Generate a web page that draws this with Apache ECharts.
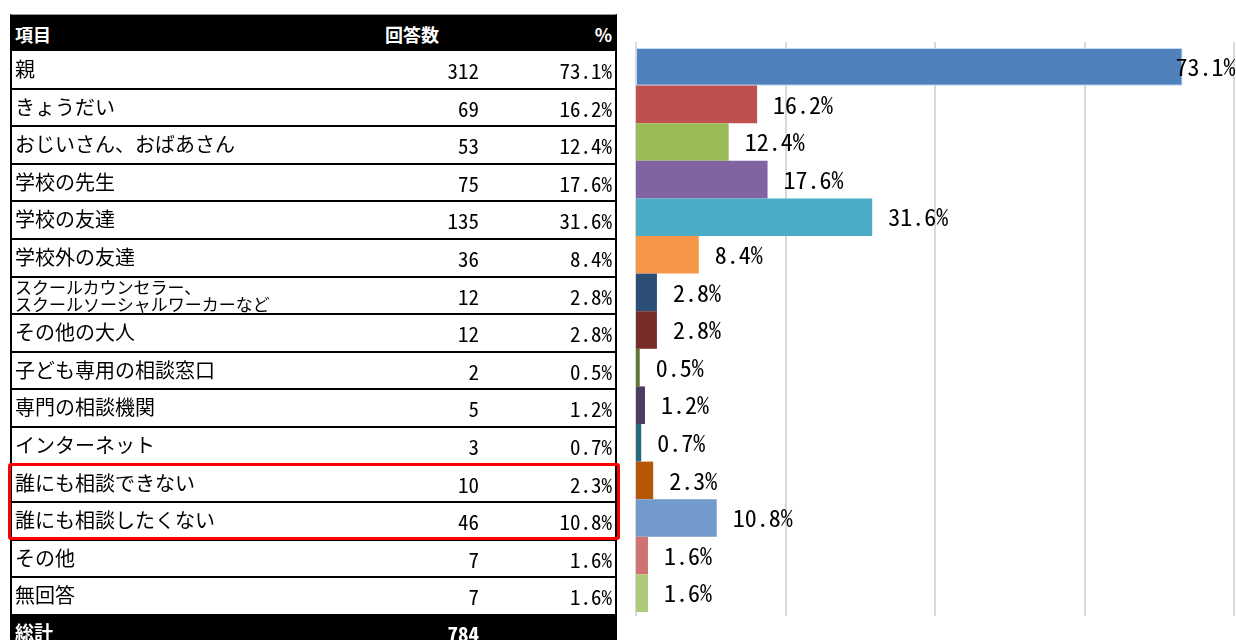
<!DOCTYPE html>
<html>
<head>
<meta charset="utf-8">
<script src="https://cdn.jsdelivr.net/npm/echarts@6/dist/echarts.min.js"></script>
<style>
  html, body { margin: 0; padding: 0; background: #fff; }
  #chart { position: absolute; left: 0; top: 0; width: 1236px; height: 640px; }
  #table { position: absolute; left: 0; top: 0; width: 620px; height: 640px; overflow: hidden;
    font-family: "Noto Sans CJK JP", sans-serif; color: #000; }
  .row { position: absolute; left: 10px; width: 607px; box-sizing: border-box;
    border-left: 2px solid #000; border-right: 2px solid #000; border-bottom: 2px solid #000; }
  .row span { position: absolute; white-space: nowrap; }
  .name { left: 3px; font-size: 20px; }
  .num { font-family: "Noto Sans Mono CJK JP", "DejaVu Sans Mono", monospace; font-size: 21px; }
  .head { background: #000; color: #fff; font-weight: bold; font-size: 18px; border-top: 1px solid #999; }
  .total { background: #000; color: #fff; font-weight: bold; border-bottom: none; }
  #redbox { position: absolute; left: 8px; top: 463px; width: 612px; height: 77px; box-sizing: border-box;
    border: 3px solid #ff0000; border-radius: 3px; }
</style>
</head>
<body>
<div id="chart"></div>
<div id="table"></div>
<script>
// 項目
const categories = ['親', 'きょうだい', 'おじいさん、おばあさん', '学校の先生', '学校の友達', '学校外の友達',
  'スクールカウンセラー、\nスクールソーシャルワーカーなど', 'その他の大人', '子ども専用の相談窓口', '専門の相談機関',
  'インターネット', '誰にも相談できない', '誰にも相談したくない', 'その他', '無回答']
// 回答数
const counts = [312, 69, 53, 75, 135, 36, 12, 12, 2, 5, 3, 10, 46, 7, 7]
// %
const percents = [73.1, 16.2, 12.4, 17.6, 31.6, 8.4, 2.8, 2.8, 0.5, 1.2, 0.7, 2.3, 10.8, 1.6, 1.6]
const total = 784
const barColors = ['#4f81bd', '#c0504d', '#9bbb59', '#8064a2', '#4bacc6', '#f79646', '#2c4d75', '#772c2a',
  '#5f7530', '#4d3b62', '#276a7c', '#b65708', '#729aca', '#cd7371', '#afc97a']
const axisMax = 80
const tickStep = 20

// 表
const headTop = 14
const rowTop = 51
const rowH = 37.6
const table = document.getElementById('table')
function addRow (top, h, cls, cells) {
  const div = document.createElement('div')
  div.className = 'row ' + cls
  div.style.top = top + 'px'
  div.style.height = h + 'px'
  cells.forEach(c => {
    const s = document.createElement('span')
    s.className = c.cls || ''
    s.innerHTML = c.text
    Object.assign(s.style, c.style)
    div.appendChild(s)
  })
  table.appendChild(div)
}
addRow(headTop, rowTop - headTop, 'head', [
  { text: '項目', style: { left: '3px', top: '6px' } },
  { text: '回答数', style: { left: '373px', top: '6px' } },
  { text: '%', style: { right: '3px', top: '6px' } }
])
categories.forEach((name, i) => {
  const two = name.indexOf('\n') >= 0
  addRow(rowTop + i * rowH, rowH + 1, '', [
    two
      ? { text: name.replace('\n', '<br>'), cls: 'name', style: { fontSize: '17px', lineHeight: '17px', top: '1px' } }
      : { text: name, cls: 'name', style: { top: '3px' } },
    { text: String(counts[i]), cls: 'num', style: { right: '136px', top: '4px' } },
    { text: percents[i].toFixed(1) + '%', cls: 'num', style: { right: '3px', top: '4px' } }
  ])
})
addRow(rowTop + categories.length * rowH, 40, 'total', [
  { text: '総計', cls: 'name', style: { top: '3px', fontSize: '19px' } },
  { text: String(total), cls: 'num', style: { right: '136px', top: '3px' } }
])
const red = document.createElement('div')
red.id = 'redbox'
table.appendChild(red)

// グラフ
const myChart = echarts.init(document.getElementById('chart'))
const option = {
  animation: false,
  grid: [
    { left: 636, right: 2, top: 42, bottom: 24 },
    { left: 636, right: 2, top: 48, bottom: 28 }
  ],
  xAxis: [
    {
      gridIndex: 0, type: 'value', min: 0, max: axisMax, interval: tickStep,
      axisLabel: { show: false }, axisLine: { show: false }, axisTick: { show: false },
      splitLine: { lineStyle: { color: '#d9d9d9', width: 2 } }
    },
    {
      gridIndex: 1, type: 'value', min: 0, max: axisMax, interval: tickStep,
      show: false, splitLine: { show: false }
    }
  ],
  yAxis: [
    { gridIndex: 0, type: 'category', data: categories, show: false },
    { gridIndex: 1, type: 'category', data: categories, inverse: true, show: false }
  ],
  series: [
    {
      type: 'bar',
      xAxisIndex: 1,
      yAxisIndex: 1,
      barCategoryGap: '0%',
      data: percents.map((v, i) => ({
        value: v,
        itemStyle: i === 0
          ? { color: barColors[i], borderColor: '#c6d9f1', borderWidth: 1 }
          : { color: barColors[i] },
        label: i === 0 ? { distance: -7 } : {}
      })),
      label: {
        show: true,
        position: 'right',
        distance: 16,
        formatter: p => p.value.toFixed(1) + '%',
        fontFamily: '"Noto Sans Mono CJK JP", "DejaVu Sans Mono", monospace',
        fontSize: 24,
        color: '#000'
      }
    }
  ]
}
myChart.setOption(option)
</script>
</body>
</html>
